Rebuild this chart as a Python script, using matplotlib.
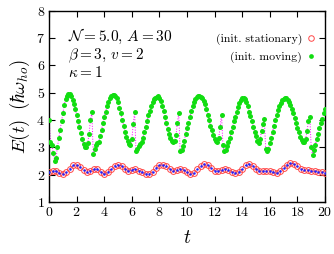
import numpy as np
import matplotlib
matplotlib.use("Agg")
import matplotlib.pyplot as plt
from matplotlib.lines import Line2D

plt.rcParams['font.family'] = 'serif'
plt.rcParams['font.serif'] = ['cmr10', 'DejaVu Serif']
plt.rcParams['mathtext.fontset'] = 'cm'
plt.rcParams['axes.formatter.use_mathtext'] = True

# energy, initially stationary (dt = 0.25)
t_stat = np.arange(0, 20.001, 0.25)
e_stat = [2.10, 2.12, 2.13, 2.05, 2.01, 2.08, 2.22, 2.34, 2.35, 2.28,
          2.18, 2.11, 2.14, 2.20, 2.20, 2.10, 2.02, 2.08, 2.20, 2.32,
          2.37, 2.32, 2.22, 2.15, 2.18, 2.20, 2.15, 2.08, 2.03, 2.02,
          2.10, 2.24, 2.34, 2.37, 2.30, 2.20, 2.15, 2.17, 2.21, 2.18,
          2.08, 2.01, 2.06, 2.20, 2.32, 2.38, 2.34, 2.24, 2.15, 2.13,
          2.17, 2.20, 2.17, 2.10, 2.05, 2.10, 2.22, 2.34, 2.38, 2.33,
          2.22, 2.14, 2.13, 2.13, 2.13, 2.08, 2.05, 2.12, 2.24, 2.36,
          2.42, 2.40, 2.30, 2.20, 2.17, 2.16, 2.14, 2.12, 2.10, 2.10,
          2.07]

# energy, initially moving (dt = 0.1)
t_mov = np.arange(0, 20.001, 0.1)
e_mov = [4.00, 3.20, 3.10, 2.80, 2.50, 2.60, 3.00, 3.33, 3.65, 3.95,
         4.25, 4.55, 4.78, 4.90, 4.97, 4.97, 4.88, 4.75, 4.58, 4.40,
         4.19, 3.98, 3.75, 3.52, 3.30, 3.12, 3.03, 3.00, 3.15, 3.50,
         4.00, 4.30, 2.75, 2.95, 3.10, 3.15, 3.20, 3.40, 3.64, 3.88,
         4.10, 4.30, 4.50, 4.67, 4.80, 4.88, 4.93, 4.93, 4.88, 4.80,
         4.65, 4.45, 4.25, 4.02, 3.80, 3.58, 3.38, 3.22, 3.12, 3.08,
         3.30, 3.85, 4.30, 2.85, 2.95, 3.05, 3.12, 3.20, 3.35, 3.55,
         3.75, 3.95, 4.17, 4.35, 4.52, 4.66, 4.76, 4.82, 4.86, 4.87,
         4.82, 4.70, 4.52, 4.32, 4.10, 3.88, 3.66, 3.48, 3.35, 3.25,
         3.20, 3.25, 3.45, 3.90, 4.25, 2.85, 2.90, 3.05, 3.25, 3.50,
         3.70, 3.90, 4.12, 4.33, 4.52, 4.66, 4.76, 4.83, 4.87, 4.88,
         4.86, 4.80, 4.70, 4.60, 4.42, 4.20, 4.00, 3.80, 3.62, 3.45,
         3.30, 3.22, 3.20, 3.35, 3.75, 4.20, 3.10, 2.85, 2.90, 3.05,
         3.20, 3.35, 3.55, 3.75, 3.95, 4.12, 4.30, 4.48, 4.62, 4.72,
         4.80, 4.82, 4.78, 4.65, 4.50, 4.30, 4.15, 3.95, 3.76, 3.58,
         3.40, 3.22, 3.15, 3.30, 3.60, 3.85, 4.05, 2.95, 2.85, 2.95,
         3.15, 3.35, 3.58, 3.80, 4.00, 4.20, 4.37, 4.52, 4.64, 4.72,
         4.78, 4.80, 4.80, 4.74, 4.65, 4.55, 4.42, 4.25, 4.08, 3.90,
         3.72, 3.55, 3.38, 3.27, 3.20, 3.18, 3.30, 3.60, 3.95, 4.13,
         3.00, 2.72, 2.90, 3.10, 3.30, 3.50, 3.70, 3.90, 4.05, 4.25,
         4.40]

fig = plt.figure(figsize=(3.34, 2.54), dpi=100)
ax = fig.add_axes([0.147, 0.205, 0.826, 0.752])

# moving: magenta dotted line under green dots
ax.plot(t_mov, e_mov, ':', color='#ff00ff', lw=0.7, zorder=2)
ax.plot(t_mov, e_mov, 'o', color='#11dd11', ms=3.6, mew=0, zorder=3)

# stationary: blue dotted line with red open circles
ax.plot(t_stat, e_stat, ':', color='#2020ff', lw=0.8, zorder=2)
ax.plot(t_stat, e_stat, 'o', mfc='none', mec='#ff4848', ms=4.2, mew=0.7, zorder=3)
ax.plot(t_stat, e_stat, '.', color='#2020ff', ms=1.5, zorder=4)

ax.set_xlim(0, 20)
ax.set_ylim(1, 8)
ax.set_xticks(range(0, 21, 2))
ax.set_yticks(range(1, 9))
ax.tick_params(direction='in', top=True, right=True, length=4, width=0.8,
               labelsize=10, pad=3)
for s in ax.spines.values():
    s.set_linewidth(1.0)

ax.set_xlabel(r'$t$', fontsize=14, labelpad=7)
ax.set_ylabel(r'$E(t)\;\;(\hbar\omega_{ho})$', fontsize=13.5, labelpad=3)

ax.text(0.068, 0.915, '$\\mathcal{N}=5.0,\\,A=30$\n$\\beta=3,\\,v=2$\n$\\kappa=1$',
        transform=ax.transAxes, fontsize=11, va='top', linespacing=1.0)

handles = [Line2D([], [], ls='none', marker='o', mfc='none', mec='#ff4848', ms=4.0, mew=0.7),
           Line2D([], [], ls='none', marker='o', color='#11dd11', ms=3.4, mew=0)]
ax.legend(handles, ['(init. stationary)', '(init. moving)'], loc='upper right',
          bbox_to_anchor=(0.985, 0.905), markerfirst=False, frameon=False,
          fontsize=8.5, handlelength=0.8, handletextpad=0.4, labelspacing=0.55,
          borderaxespad=0)

fig.savefig('out.png', dpi=100)
